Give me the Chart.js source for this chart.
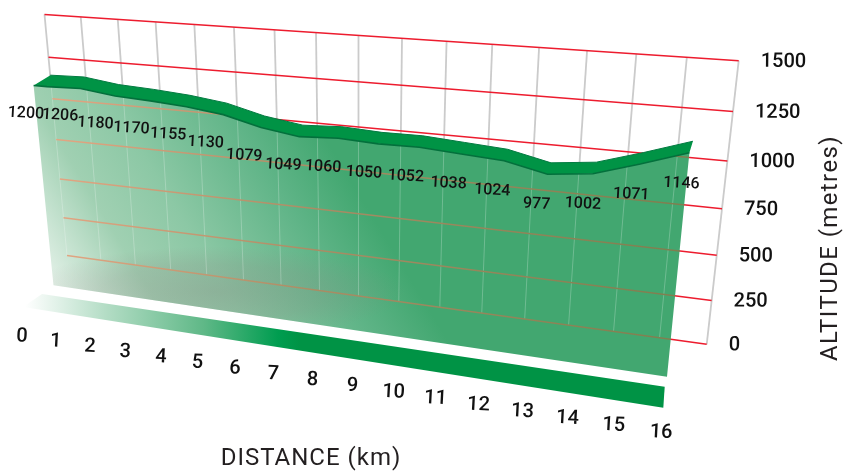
<!DOCTYPE html>
<html>
<head>
<meta charset="utf-8">
<style>html,body{margin:0;padding:0;background:#fff}canvas{display:block}</style>
<script src="https://cdn.jsdelivr.net/npm/chart.js@4"></script>
</head>
<body>
<canvas id="c" width="846" height="471"></canvas>
<script>
const distanceTicks = [0,1,2,3,4,5,6,7,8,9,10,11,12,13,14,15,16];
const altitudes = [1200,1206,1180,1170,1155,1130,1079,1049,1060,1050,1052,1038,1024,977,1002,1071,1146];
const altitudeTicks = [0,250,500,750,1000,1250,1500];
const wallStart = -0.4;
const xTitle = 'DISTANCE (km)';
const yTitle = 'ALTITUDE (metres)';

function quadMap(q){
  const [[x0,y0],[x1,y1],[x2,y2],[x3,y3]] = q;
  const dx1=x1-x2,dx2=x3-x2,sx=x0-x1+x2-x3,dy1=y1-y2,dy2=y3-y2,sy=y0-y1+y2-y3;
  const det=dx1*dy2-dx2*dy1, g=(sx*dy2-dx2*sy)/det, h=(dx1*sy-sx*dy1)/det;
  const a=x1-x0+g*x1,b=x3-x0+h*x3,c=x0,d=y1-y0+g*y1,e=y3-y0+h*y3,f=y0;
  return (u,v)=>{const w=g*u+h*v+1;return [(a*u+b*v+c)/w,(d*u+e*v+f)/w];};
}
// planes: corners at (u,v) = (0,0),(1,0),(1,1),(0,1) ; u = distance, v = altitude
const planes = {
  grid:  quadMap([[67,255.5],[706.7,344.3],[738.7,60.7],[44.5,14.5]]),
  front: quadMap([[66,287],[667,376.7],[697,76.7],[41.7,32.5]]),
  back:  quadMap([[69.5,275.5],[670.5,365.2],[700.5,65.2],[45.2,21]]),
  floor: quadMap([[42,294],[664.7,386.7],[663.3,407.7],[23,307]]),
  label: quadMap([[45,314],[659,407.7],[689,107.7],[20.7,59.5]]),
  axis:  quadMap([[22,336.5],[661,432.5],[661,444.5],[22,346.5]])
};
const ctx2d = document.getElementById('c').getContext('2d');
const seenRed = ctx2d.createLinearGradient(60,0,700,0);
seenRed.addColorStop(0,'rgb(226,165,130)');
seenRed.addColorStop(0.4,'rgb(170,140,100)');
seenRed.addColorStop(1,'rgb(125,125,78)');

const line = (id,plane,xs,ys,extra) => Object.assign({
  id, plane, data: xs.map((x,i)=>({x,y:ys[i]})), showLine:true, pointRadius:0,
  borderWidth:0, tension:0, fill:false
}, extra);
const ends = [distanceTicks[0], distanceTicks[distanceTicks.length-1]];
const altEnds = [altitudeTicks[0], altitudeTicks[altitudeTicks.length-1]];
const datasets = [];
altitudeTicks.forEach(a => datasets.push(line('h'+a,'grid',ends,[a,a],{borderColor:'#ed1c2e',borderWidth:1.5,order:50})));
distanceTicks.forEach(d => datasets.push(line('v'+d,'grid',[d,d],altEnds,{borderColor:'#cbcbcb',borderWidth:1.8,order:51})));
datasets.push(line('wallBase','front',[wallStart,ends[1]],[0,0],{order:41}));
datasets.push(line('wallTop','front',[wallStart,...distanceTicks],[altitudes[0],...altitudes],{order:40,fillTo:'wallBase',shade:'wall'}));
distanceTicks.forEach(d => datasets.push(line('vl'+d,'grid',[d,d],altEnds,{borderColor:'rgba(255,255,255,0.24)',borderWidth:1,order:35,insideWall:true})));
altitudeTicks.forEach(a => datasets.push(line('hl'+a,'grid',ends,[a,a],{borderColor:seenRed,borderWidth:1.5,order:34,insideWall:true})));
datasets.push(line('stripBottom','floor',ends,altEnds.map(()=>altEnds[1]),{order:31}));
datasets.push(line('stripTop','floor',ends,[0,0],{order:30,fillTo:'stripBottom',shade:'strip'}));
datasets.push(line('ribbonTop','back',distanceTicks,altitudes,{order:21,fillTo:'ribbonBase',shade:'ribbon',borderColor:'#037a41',borderWidth:1}));
datasets.push(line('ribbonBase','front',[wallStart,...distanceTicks],[altitudes[0],...altitudes],{order:20,borderColor:'#03703c',borderWidth:1.6}));

function pathOf(pts){
  const path = new Path2D();
  pts.forEach((p,i)=> i? path.lineTo(p.x,p.y): path.moveTo(p.x,p.y));
  path.closePath();
  return path;
}
function shadePolygon(ctx, kind, pts){
  const path = pathOf(pts);
  ctx.save();
  if(kind==='wall'){
    const g = ctx.createLinearGradient(40,300,320,130);
    g.addColorStop(0,'rgb(242,246,242)');
    g.addColorStop(0.1,'rgb(215,235,222)');
    g.addColorStop(0.3,'rgb(160,208,178)');
    g.addColorStop(0.5,'rgb(140,200,165)');
    g.addColorStop(0.8,'rgb(95,180,135)');
    g.addColorStop(1,'rgb(66,167,112)');
    ctx.fillStyle=g; ctx.fill(path);
    ctx.clip(path);
    ctx.translate(215,292); ctx.scale(1,0.24);
    const r = ctx.createRadialGradient(0,0,0,0,0,190);
    r.addColorStop(0,'rgba(135,130,125,0.32)');
    r.addColorStop(0.6,'rgba(135,130,125,0.2)');
    r.addColorStop(1,'rgba(135,130,125,0)');
    ctx.fillStyle=r; ctx.fillRect(-300,-500,600,1000);
  } else if(kind==='strip'){
    const g = ctx.createLinearGradient(25,0,300,0);
    g.addColorStop(0,'rgba(255,255,255,1)');
    g.addColorStop(0.3,'rgb(178,220,196)');
    g.addColorStop(0.65,'rgb(95,184,135)');
    g.addColorStop(0.92,'rgb(0,157,80)');
    g.addColorStop(1,'rgb(0,147,69)');
    ctx.fillStyle=g; ctx.fill(path);
  } else {
    ctx.fillStyle='#009345'; ctx.fill(path);
  }
  ctx.restore();
}
const FONT='Roboto';
const polygonFor = (chart,id1,id2) => {
  const dss=chart.data.datasets;
  const a=chart.getDatasetMeta(dss.findIndex(d=>d.id===id1)).data;
  const b=chart.getDatasetMeta(dss.findIndex(d=>d.id===id2)).data;
  return [...a,...[...b].reverse()];
};
const projector = {
  id:'projector',
  afterDatasetsUpdate(chart){
    const X=chart.scales.x, Y=chart.scales.y;
    const x0=X.getPixelForValue(0), x1=X.getPixelForValue(16);
    const y0=Y.getPixelForValue(0), y1=Y.getPixelForValue(1500);
    chart.data.datasets.forEach((ds,i)=>{
      const map=planes[ds.plane];
      chart.getDatasetMeta(i).data.forEach(el=>{
        const [px,py]=map((el.x-x0)/(x1-x0),(el.y-y0)/(y1-y0));
        el.x=px; el.y=py;
      });
    });
  },
  beforeDatasetDraw(chart,args){
    const ds=chart.data.datasets[args.index];
    if(ds.insideWall){
      chart.ctx.save();
      chart.ctx.clip(pathOf(polygonFor(chart,'wallTop','wallBase')));
    }
    if(ds.fillTo) shadePolygon(chart.ctx,ds.shade,polygonFor(chart,ds.id,ds.fillTo));
  },
  afterDatasetDraw(chart,args){
    if(chart.data.datasets[args.index].insideWall) chart.ctx.restore();
  },
  afterDatasetsDraw(chart){
    const ctx=chart.ctx, X=chart.scales.x, Y=chart.scales.y;
    const x0=X.getPixelForValue(0), x1=X.getPixelForValue(16);
    const y0=Y.getPixelForValue(0), y1=Y.getPixelForValue(1500);
    const uv=(d,a)=>[(X.getPixelForValue(d)-x0)/(x1-x0),(Y.getPixelForValue(a)-y0)/(y1-y0)];
    const put=(t,x,y,font,color,rot,align,spacing)=>{
      ctx.save();ctx.translate(x,y);ctx.rotate((rot||0)*Math.PI/180);
      ctx.font=font;ctx.fillStyle=color;ctx.textAlign=align||'center';ctx.textBaseline='middle';
      ctx.letterSpacing=spacing||'0px';
      ctx.fillText(t,0,0);ctx.restore();
    };
    altitudes.forEach((a,i)=>{
      const [x,y]=planes.label(...uv(distanceTicks[i],a));
      put(String(a),x,y,'500 16px '+FONT,'#111',3);
    });
    altitudeTicks.forEach(a=>{
      const [x,y]=planes.grid(...uv(16,a));
      put(String(a),x+22,y+1,'500 20px '+FONT,'#111',0.5,'left');
    });
    distanceTicks.forEach(d=>{
      const [x,y]=planes.axis(...uv(d,0));
      put(String(d),x,y,'500 20px '+FONT,'#111',3);
    });
    put(xTitle,311,459,'400 24px '+FONT,'#231f20',0,'center','1px');
    put(yTitle,831,248,'400 24px '+FONT,'#231f20',-90,'center','1.4px');
  }
};
new Chart(document.getElementById('c'),{
  type:'scatter',
  data:{datasets},
  plugins:[projector],
  options:{
    responsive:false, animation:false, devicePixelRatio:1,
    layout:{padding:0},
    events:[],
    plugins:{legend:{display:false},tooltip:{enabled:false}},
    scales:{
      x:{type:'linear',min:-1,max:17,display:false},
      y:{type:'linear',min:-100,max:1600,display:false}
    }
  }
});
</script>
</body>
</html>
